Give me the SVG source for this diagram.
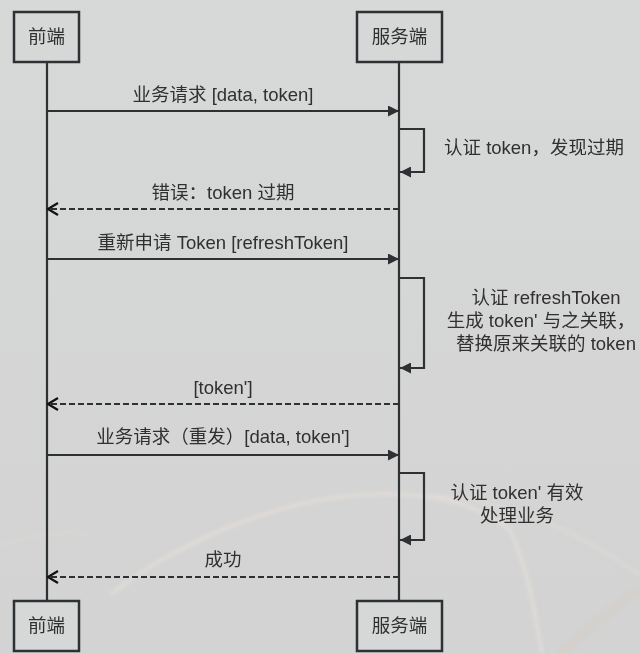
<svg xmlns="http://www.w3.org/2000/svg" width="640" height="654" viewBox="0 0 640 654">
  <defs>
    <style>
      .box { fill: #d6d8d7; stroke: #2e3134; stroke-width: 2.5; }
      .life { stroke: #2e3134; stroke-width: 2.2; fill: none; }
      .msg { stroke: #2e3134; stroke-width: 2.2; fill: none; }
      .dash { stroke: #2e3134; stroke-width: 2.2; fill: none; stroke-dasharray: 6 3; }
      .t { font-family: "Liberation Sans", "Noto Sans CJK SC", sans-serif; font-size: 18.5px; fill: #303030; text-anchor: middle; }
      .ts { text-anchor: start; }
    </style>
    <marker id="filled" viewBox="0 0 11 11" refX="11" refY="5.5" markerWidth="11" markerHeight="11" markerUnits="userSpaceOnUse" orient="auto">
      <path d="M0,0 L11,5.5 L0,11 Z" fill="#2e3134"/>
    </marker>
    <marker id="open" viewBox="0 0 12 14" refX="11" refY="7" markerWidth="12" markerHeight="14" markerUnits="userSpaceOnUse" orient="auto">
      <path d="M1,1 L11,7 L1,13" fill="none" stroke="#111" stroke-width="2.2"/>
    </marker>
    <filter id="blur" x="-10%" y="-10%" width="120%" height="120%">
      <feGaussianBlur stdDeviation="2"/>
    </filter>
    <linearGradient id="bg" x1="0" y1="0" x2="0" y2="1">
      <stop offset="0" stop-color="#d7d8d8"/>
      <stop offset="1" stop-color="#d2d3d2"/>
    </linearGradient>
  </defs>

  <rect x="0" y="0" width="640" height="654" fill="url(#bg)"/>
  <g id="swoosh" fill="none" filter="url(#blur)">
    <path d="M110,595 C180,540 280,500 360,495 C430,490 480,505 510,530 C525,560 535,610 542,654" stroke="#ede3de" stroke-width="3" opacity="0.7"/>
    <path d="M430,495 C520,500 590,540 640,575" stroke="#ebe1dc" stroke-width="3" opacity="0.5"/>
    <path d="M0,545 C30,535 60,530 90,534" stroke="#e0dad6" stroke-width="4" opacity="0.4"/>
    <path d="M560,654 C600,620 620,600 640,590" stroke="#dcc8bd" stroke-width="6" opacity="0.35"/>
  </g>

  <g id="lifelines">
    <line class="life" x1="47" y1="62" x2="47" y2="601"/>
    <line class="life" x1="399" y1="62" x2="399" y2="601"/>
  </g>

  <g id="node-frontend-top">
    <rect class="box" x="14" y="12" width="65" height="50"/>
    <text class="t" x="46.5" y="43">前端</text>
  </g>
  <g id="node-server-top">
    <rect class="box" x="357" y="12" width="85" height="50"/>
    <text class="t" x="399.5" y="43">服务端</text>
  </g>
  <g id="node-frontend-bottom">
    <rect class="box" x="14" y="601" width="65" height="50"/>
    <text class="t" x="46.5" y="632">前端</text>
  </g>
  <g id="node-server-bottom">
    <rect class="box" x="357" y="601" width="85" height="50"/>
    <text class="t" x="399.5" y="632">服务端</text>
  </g>

  <g id="connectors">
    <line class="msg" x1="47" y1="111" x2="399" y2="111" marker-end="url(#filled)"/>
    <path class="msg" d="M399,129 H424 V172 H400" marker-end="url(#filled)"/>
    <line class="dash" x1="399" y1="209" x2="48" y2="209" marker-end="url(#open)"/>
    <line class="msg" x1="47" y1="259" x2="399" y2="259" marker-end="url(#filled)"/>
    <path class="msg" d="M399,278 H424 V368 H400" marker-end="url(#filled)"/>
    <line class="dash" x1="399" y1="404" x2="48" y2="404" marker-end="url(#open)"/>
    <line class="msg" x1="47" y1="455" x2="399" y2="455" marker-end="url(#filled)"/>
    <path class="msg" d="M399,473 H424 V540 H400" marker-end="url(#filled)"/>
    <line class="dash" x1="399" y1="577" x2="48" y2="577" marker-end="url(#open)"/>
  </g>

  <g id="labels">
    <text class="t" x="223" y="101">业务请求 [data, token]</text>
    <text class="t ts" x="444" y="154">认证 token，发现过期</text>
    <text class="t" x="223" y="199">错误：token 过期</text>
    <text class="t" x="223" y="249">重新申请 Token [refreshToken]</text>
    <text class="t" x="546" y="304">认证 refreshToken</text>
    <text class="t" x="541" y="327">生成 token' 与之关联，</text>
    <text class="t" x="546" y="350">替换原来关联的 token</text>
    <text class="t" x="223" y="394">[token']</text>
    <text class="t" x="223" y="443">业务请求（重发）[data, token']</text>
    <text class="t" x="517" y="499">认证 token' 有效</text>
    <text class="t" x="517" y="522">处理业务</text>
    <text class="t" x="223" y="566">成功</text>
  </g>
</svg>
